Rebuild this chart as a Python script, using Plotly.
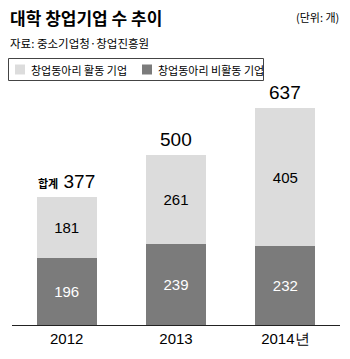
import plotly.graph_objects as go

# Data: university start-ups by year (unit: companies)
years = ["2012", "2013", "2014년"]
active_club = [181, 261, 405]      # 창업동아리 활동 기업
inactive_club = [196, 239, 232]    # 창업동아리 비활동 기업
totals = [377, 500, 637]

LIGHT = "#dcdcdc"
DARK = "#7b7b7b"
NUM_FONT = "Liberation Sans, Arial, sans-serif"
KR_FONT = "Noto Sans CJK KR, sans-serif"

W, H = 350, 359
ML, MR, MT, MB = 12, 10, 90, 34
plot_h = H - MT - MB
y_max = plot_h / 0.34

fig = go.Figure()
fig.add_trace(go.Bar(
    x=years, y=inactive_club, name="창업동아리 비활동 기업",
    marker=dict(color=DARK, line=dict(width=0)),
    text=[str(v) for v in inactive_club], textposition="inside",
    insidetextanchor="middle",
    textfont=dict(family=NUM_FONT, size=15, color="white"),
    showlegend=False,
))
fig.add_trace(go.Bar(
    x=years, y=active_club, name="창업동아리 활동 기업",
    marker=dict(color=LIGHT, line=dict(width=0)),
    text=[str(v) for v in active_club], textposition="inside",
    insidetextanchor="middle",
    textfont=dict(family=NUM_FONT, size=15, color="black"),
    showlegend=False,
))

# Total labels above each stack (x given as category index)
for i, t in enumerate(totals):
    label = (f"<span style='font-size:11px;font-family:{KR_FONT}'><b>합계</b></span> {t}"
             if i == 0 else str(t))
    fig.add_annotation(
        x=i, y=t, text=label, showarrow=False, yanchor="bottom", yshift=3,
        font=dict(family=NUM_FONT, size=19, color="black"),
    )

def px_x(px):
    return (px - ML) / (W - ML - MR)

def px_y(py):
    return (H - MB - py) / plot_h

fig.add_annotation(
    xref="paper", yref="paper", x=px_x(8), y=px_y(17), xanchor="left", yanchor="middle",
    text="<b>대학 창업기업 수 추이</b>", showarrow=False,
    font=dict(family=KR_FONT, size=17, color="black"),
)
fig.add_annotation(
    xref="paper", yref="paper", x=px_x(8), y=px_y(43), xanchor="left", yanchor="middle",
    text="자료: 중소기업청·창업진흥원", showarrow=False,
    font=dict(family=KR_FONT, size=11.5, color="black"),
)
fig.add_annotation(
    xref="paper", yref="paper", x=px_x(341), y=px_y(17), xanchor="right", yanchor="middle",
    text="(단위: 개)", showarrow=False,
    font=dict(family=KR_FONT, size=11, color="black"),
)

# Boxed legend
shapes = [dict(
    type="rect", xref="paper", yref="paper",
    x0=px_x(8.5), x1=px_x(263.5), y0=px_y(58.5), y1=px_y(80.5),
    line=dict(color="#444444", width=1), fillcolor="white", layer="above",
)]
legend_items = [("창업동아리 활동 기업", LIGHT, 15), ("창업동아리 비활동 기업", DARK, 142)]
for name, color, sx in legend_items:
    shapes.append(dict(
        type="rect", xref="paper", yref="paper",
        x0=px_x(sx), x1=px_x(sx + 10), y0=px_y(64.5), y1=px_y(74.5),
        line=dict(width=0), fillcolor=color, layer="above",
    ))
    fig.add_annotation(
        xref="paper", yref="paper", x=px_x(sx + 14), y=px_y(69.5),
        xanchor="left", yanchor="middle", text=name, showarrow=False,
        font=dict(family=KR_FONT, size=11, color="black"),
    )

fig.update_layout(
    width=W, height=H,
    margin=dict(l=ML, r=MR, t=MT, b=MB),
    paper_bgcolor="white", plot_bgcolor="white",
    barmode="stack", bargap=0.45,
    showlegend=False,
    shapes=shapes,
    xaxis=dict(
        type="category",
        showline=True, linecolor="#222222", linewidth=1, ticks="",
        tickfont=dict(family=NUM_FONT, size=15, color="black"),
        showgrid=False, range=[-0.5, 2.5],
    ),
    yaxis=dict(visible=False, range=[0, y_max], showgrid=False, zeroline=False),
)

fig.write_html("out.html")
